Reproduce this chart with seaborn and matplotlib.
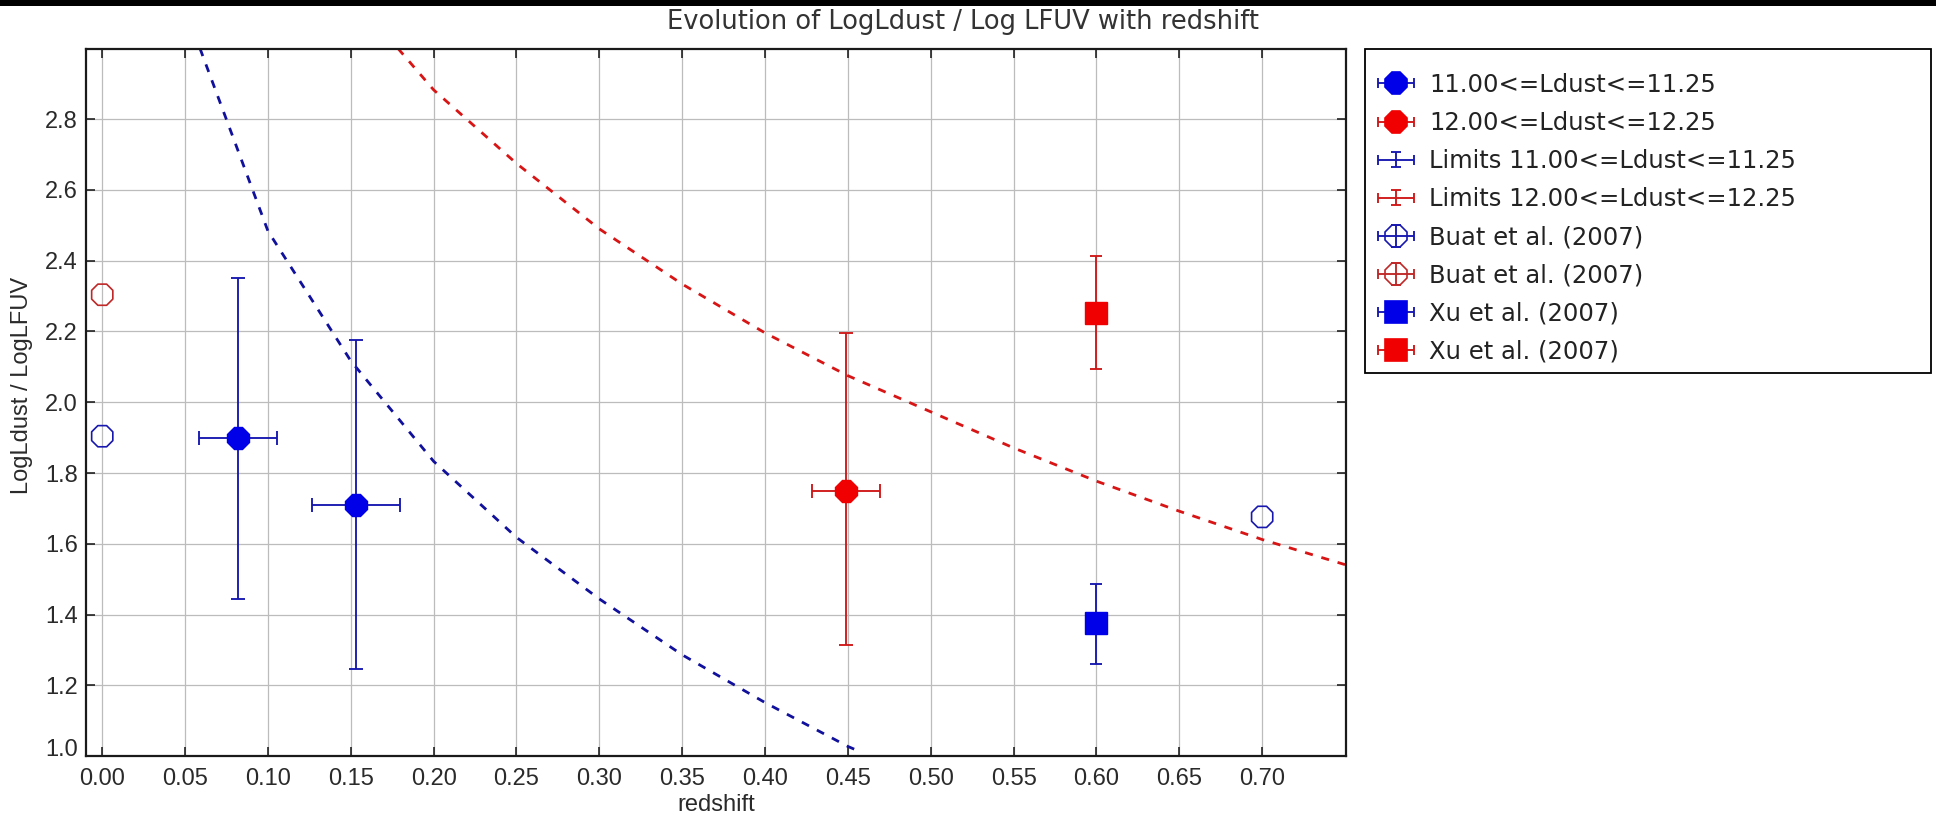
import matplotlib
matplotlib.use("Agg")
import matplotlib.pyplot as plt
import seaborn as sns
from matplotlib.patches import Rectangle
from matplotlib.lines import Line2D
from matplotlib.collections import LineCollection
from matplotlib.container import ErrorbarContainer
from matplotlib.legend_handler import HandlerErrorbar

# ---------------- data ----------------
x_ticks = [0.00, 0.05, 0.10, 0.15, 0.20, 0.25, 0.30, 0.35,
           0.40, 0.45, 0.50, 0.55, 0.60, 0.65, 0.70]
y_ticks = [1.0, 1.2, 1.4, 1.6, 1.8, 2.0, 2.2, 2.4, 2.6, 2.8]

# model tracks (dashed polylines)
track_low_z = [0.059, 0.10, 0.15, 0.20, 0.25, 0.30, 0.35, 0.40, 0.45, 0.455]
track_low_ratio = [3.000, 2.484, 2.117, 1.833, 1.618, 1.444, 1.286, 1.151, 1.027, 1.017]

track_high_z = [0.1785, 0.20, 0.25, 0.30, 0.35, 0.40, 0.45, 0.50, 0.55,
                0.60, 0.65, 0.70, 0.75]
track_high_ratio = [3.000, 2.883, 2.675, 2.490, 2.334, 2.196, 2.075, 1.973, 1.871,
                    1.777, 1.692, 1.612, 1.541]

# 11.00 <= Ldust <= 11.25 bins
low_z = [0.082, 0.153]
low_ratio = [1.90, 1.71]
low_zerr = [0.0235, 0.0265]
low_min = [1.445, 1.247]
low_max = [2.352, 2.175]

# 12.00 <= Ldust <= 12.25 bins
high_z = [0.449]
high_ratio = [1.75]
high_zerr = [0.0205]
high_min = [1.315]
high_max = [2.195]

# Buat et al. (2007)
buat_low_z = [0.00, 0.70]
buat_low_ratio = [1.904, 1.676]
buat_high_z = [0.00]
buat_high_ratio = [2.304]

# Xu et al. (2007)
xu_low_z = [0.60]
xu_low_ratio = [1.375]
xu_low_min = [1.26]
xu_low_max = [1.485]
xu_high_z = [0.60]
xu_high_ratio = [2.253]
xu_high_min = [2.095]
xu_high_max = [2.414]

legend_labels = [
    "11.00<=Ldust<=11.25",
    "12.00<=Ldust<=12.25",
    "Limits 11.00<=Ldust<=11.25",
    "Limits 12.00<=Ldust<=12.25",
    "Buat et al. (2007)",
    "Buat et al. (2007)",
    "Xu et al. (2007)",
    "Xu et al. (2007)",
]

title = "Evolution of LogLdust / Log LFUV with redshift"

# ---------------- style ----------------
sns.set_style("ticks")
plt.rcParams["font.family"] = ["Liberation Sans", "DejaVu Sans"]

BLUE = "#0000e8"
BLUE_LINE = "#1818b0"
BLUE_TRACK = "#10109c"
RED = "#f00000"
RED_LINE = "#d01818"
RED_TRACK = "#d81414"
RED_OPEN = "#c02828"
MS_OCT = 16.5
MS_SQ = 15.5
ELW = 1.35

W, H = 1936, 814
fig = plt.figure(figsize=(W / 100, H / 100), dpi=100)
fig.patch.set_facecolor("white")
ax = fig.add_axes([86 / W, 1 - 756 / H, (1346 - 86) / W, (756 - 48.5) / H])

# dashed model tracks
for zs, rs, col in [(track_low_z, track_low_ratio, BLUE_TRACK),
                    (track_high_z, track_high_ratio, RED_TRACK)]:
    sns.lineplot(x=zs, y=rs, sort=False, estimator=None, color=col,
                 linewidth=2.0, linestyle=(0, (2.9, 3.2)),
                 ax=ax, legend=False, zorder=2)


def asym(vals, lo, hi):
    return [[v - a for v, a in zip(vals, lo)], [b - v for v, b in zip(vals, hi)]]


# binned measurements with their limits
ax.errorbar(low_z, low_ratio, xerr=low_zerr, yerr=asym(low_ratio, low_min, low_max),
            fmt="8", ms=MS_OCT, mfc=BLUE, mec=BLUE, ecolor=BLUE_LINE,
            elinewidth=ELW, capsize=4.8, capthick=ELW, zorder=3)
ax.errorbar(high_z, high_ratio, xerr=high_zerr, yerr=asym(high_ratio, high_min, high_max),
            fmt="8", ms=MS_OCT, mfc=RED, mec=RED, ecolor=RED_LINE,
            elinewidth=ELW, capsize=4.8, capthick=ELW, zorder=3)

# Xu et al. points
ax.errorbar(xu_low_z, xu_low_ratio, yerr=asym(xu_low_ratio, xu_low_min, xu_low_max),
            fmt="s", ms=MS_SQ, mfc=BLUE, mec=BLUE, ecolor=BLUE_LINE,
            elinewidth=ELW, capsize=4.0, capthick=ELW, zorder=3)
ax.errorbar(xu_high_z, xu_high_ratio, yerr=asym(xu_high_ratio, xu_high_min, xu_high_max),
            fmt="s", ms=MS_SQ, mfc=RED, mec=RED, ecolor=RED_LINE,
            elinewidth=ELW, capsize=4.0, capthick=ELW, zorder=3)

# Buat et al. open markers
sns.scatterplot(x=buat_low_z, y=buat_low_ratio, marker="8", s=MS_OCT ** 2,
                color=BLUE_LINE, facecolor="none", edgecolor=BLUE_LINE,
                linewidth=1.2, ax=ax, legend=False, zorder=4)
sns.scatterplot(x=buat_high_z, y=buat_high_ratio, marker="8", s=MS_OCT ** 2,
                color=RED_OPEN, facecolor="none", edgecolor=RED_OPEN,
                linewidth=1.2, ax=ax, legend=False, zorder=4)

# axes
ax.set_xlim(-0.0098, 0.7506)
ax.set_ylim(1.0, 3.0)
ax.set_xticks(x_ticks)
ax.set_xticklabels([f"{v:.2f}" for v in x_ticks])
ax.set_yticks(y_ticks)
ax.set_yticklabels([f"{v:.1f}" for v in y_ticks])
ax.grid(True, color="#bcbcbc", linewidth=0.9)
ax.set_axisbelow(True)
ax.tick_params(direction="in", length=6.5, width=1.1, top=True, right=True,
               labelsize=17, labelcolor="#2a2a2a", color="#111111")
ax.tick_params(axis="x", pad=8.5)
ax.tick_params(axis="y", pad=6)
for sp in ax.spines.values():
    sp.set_linewidth(1.6)
    sp.set_color("#1a1a1a")
ax.get_yticklabels()[0].set_va("baseline")

ax.set_xlabel("redshift", fontsize=17, color="#2a2a2a")
ax.set_ylabel("LogLdust / LogLFUV", fontsize=17, color="#2a2a2a")
ax.xaxis.set_label_coords(0.5, -0.0537)
ax.yaxis.set_label_coords(-0.042, 0.524)


# legend entries: marker with horizontal limits, optional vertical limits
def entry(face, edge, marker=None, filled=True, ms=MS_OCT, ybar=False):
    line = None
    if marker is not None:
        line = Line2D([], [], linestyle="none", marker=marker, markersize=ms,
                      markerfacecolor=face if filled else "none",
                      markeredgecolor=face if filled else edge,
                      markeredgewidth=1.2)
    cap = Line2D([], [], linestyle="none", marker="|", markersize=7.5,
                 markeredgewidth=ELW, color=edge)
    bars = LineCollection([], colors=edge, linewidths=ELW)
    return ErrorbarContainer((line, (cap, cap), (bars,)), has_xerr=True, has_yerr=ybar)


handles = [
    entry(BLUE, BLUE_LINE, "8"),
    entry(RED, RED_LINE, "8"),
    entry(BLUE, BLUE_LINE, None, ybar=True),
    entry(RED, RED_LINE, None, ybar=True),
    entry(BLUE, BLUE_LINE, "8", filled=False, ybar=True),
    entry(RED, RED_OPEN, "8", filled=False, ybar=True),
    entry(BLUE, BLUE_LINE, "s", ms=MS_SQ),
    entry(RED, RED_LINE, "s", ms=MS_SQ),
]
hmap = {}
for i, h in enumerate(handles):
    ys = 0.31 if i in (2, 3) else 0.44
    hmap[h] = HandlerErrorbar(xerr_size=0.74, yerr_size=ys)

leg = ax.legend(handles, legend_labels, handler_map=hmap, loc="upper left",
                bbox_to_anchor=(1378 / W, 1 - 73 / H),
                bbox_transform=fig.transFigure, borderaxespad=0, borderpad=0,
                frameon=False, prop={"family": "DejaVu Sans", "size": 17.5},
                numpoints=1, handlelength=1.48, handletextpad=0.62,
                labelspacing=0.58)
for t in leg.get_texts():
    t.set_color("#222222")

# legend frame
fig.add_artist(Rectangle((1364.7 / W, 1 - 373 / H), (1931 - 1364.7) / W, (373 - 49.3) / H,
                         transform=fig.transFigure, facecolor="none",
                         edgecolor="black", linewidth=1.3))

fig.text(963 / W, 1 - 22 / H, title, ha="center", va="center",
         fontsize=18.5, family="DejaVu Sans", color="#333333")
fig.add_artist(Rectangle((0, 1 - 6 / H), 1, 6 / H, transform=fig.transFigure,
                         facecolor="black", edgecolor="none"))

fig.savefig("out.png", dpi=100)
